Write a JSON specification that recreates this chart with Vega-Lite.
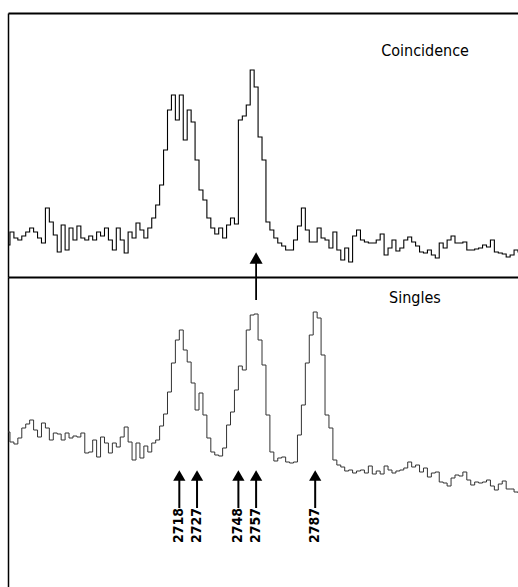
{
  "$schema": "https://vega.github.io/schema/vega-lite/v6.json",
  "padding": {"left": 8, "top": 13, "right": 0, "bottom": 0},
  "background": "white",
  "spacing": 0,
  "bounds": "flush",
  "config": {
    "view": {"stroke": null},
    "axis": {"grid": false, "ticks": false, "labels": false, "title": null, "domainColor": "black", "minExtent": 0, "maxExtent": 0, "offset": 0},
    "text": {"font": "DejaVu Sans Condensed, Noto Sans, sans-serif", "color": "black"}
  },
  "datasets": {
    "spectra": [
      {"E":2631,"coincidence":32,"singles":155},{"E":2633,"coincidence":45,"singles":145},{"E":2635,"coincidence":39,"singles":143},{"E":2637,"coincidence":37,"singles":149},{"E":2639,"coincidence":41,"singles":159},
      {"E":2641,"coincidence":45,"singles":163},{"E":2643,"coincidence":49,"singles":167},{"E":2645,"coincidence":45,"singles":157},{"E":2647,"coincidence":39,"singles":150},{"E":2649,"coincidence":34,"singles":164},
      {"E":2651,"coincidence":69,"singles":159},{"E":2653,"coincidence":55,"singles":147},{"E":2655,"coincidence":42,"singles":154},{"E":2657,"coincidence":25,"singles":153},{"E":2659,"coincidence":52,"singles":147},
      {"E":2661,"coincidence":27,"singles":154},{"E":2663,"coincidence":49,"singles":149},{"E":2665,"coincidence":37,"singles":151},{"E":2667,"coincidence":51,"singles":150},{"E":2669,"coincidence":39,"singles":154},
      {"E":2671,"coincidence":37,"singles":134},{"E":2673,"coincidence":41,"singles":135},{"E":2675,"coincidence":37,"singles":147},{"E":2677,"coincidence":45,"singles":130},{"E":2679,"coincidence":41,"singles":150},
      {"E":2681,"coincidence":49,"singles":144},{"E":2683,"coincidence":37,"singles":134},{"E":2685,"coincidence":27,"singles":144},{"E":2687,"coincidence":49,"singles":140},{"E":2689,"coincidence":37,"singles":150},
      {"E":2691,"coincidence":24,"singles":160},{"E":2693,"coincidence":45,"singles":145},{"E":2695,"coincidence":39,"singles":127},{"E":2697,"coincidence":54,"singles":144},{"E":2699,"coincidence":47,"singles":129},
      {"E":2701,"coincidence":39,"singles":141},{"E":2703,"coincidence":49,"singles":135},{"E":2705,"coincidence":59,"singles":144},{"E":2707,"coincidence":72,"singles":147},{"E":2709,"coincidence":92,"singles":161},
      {"E":2711,"coincidence":127,"singles":173},{"E":2713,"coincidence":167,"singles":195},{"E":2715,"coincidence":182,"singles":224},{"E":2717,"coincidence":157,"singles":247},{"E":2719,"coincidence":182,"singles":257},
      {"E":2721,"coincidence":137,"singles":237},{"E":2723,"coincidence":167,"singles":225},{"E":2725,"coincidence":155,"singles":204},{"E":2727,"coincidence":117,"singles":177},{"E":2729,"coincidence":87,"singles":194},
      {"E":2731,"coincidence":77,"singles":172},{"E":2733,"coincidence":59,"singles":149},{"E":2735,"coincidence":49,"singles":135},{"E":2737,"coincidence":43,"singles":132},{"E":2739,"coincidence":49,"singles":131},
      {"E":2741,"coincidence":39,"singles":139},{"E":2743,"coincidence":52,"singles":162},{"E":2745,"coincidence":59,"singles":175},{"E":2747,"coincidence":53,"singles":197},{"E":2749,"coincidence":157,"singles":221},
      {"E":2751,"coincidence":161,"singles":217},{"E":2753,"coincidence":172,"singles":257},{"E":2755,"coincidence":207,"singles":272},{"E":2757,"coincidence":190,"singles":273},{"E":2759,"coincidence":140,"singles":247},
      {"E":2761,"coincidence":117,"singles":222},{"E":2763,"coincidence":55,"singles":172},{"E":2765,"coincidence":47,"singles":135},{"E":2767,"coincidence":39,"singles":126},{"E":2769,"coincidence":34,"singles":129},
      {"E":2771,"coincidence":31,"singles":130},{"E":2773,"coincidence":27,"singles":125},{"E":2775,"coincidence":27,"singles":124},{"E":2777,"coincidence":37,"singles":125},{"E":2779,"coincidence":51,"singles":152},
      {"E":2781,"coincidence":69,"singles":182},{"E":2783,"coincidence":47,"singles":224},{"E":2785,"coincidence":35,"singles":252},{"E":2787,"coincidence":35,"singles":275},{"E":2789,"coincidence":49,"singles":269},
      {"E":2791,"coincidence":39,"singles":232},{"E":2793,"coincidence":37,"singles":172},{"E":2795,"coincidence":29,"singles":159},{"E":2797,"coincidence":45,"singles":127},{"E":2799,"coincidence":27,"singles":122},
      {"E":2801,"coincidence":17,"singles":120},{"E":2803,"coincidence":29,"singles":116},{"E":2805,"coincidence":15,"singles":117},{"E":2807,"coincidence":41,"singles":114},{"E":2809,"coincidence":47,"singles":116},
      {"E":2811,"coincidence":37,"singles":117},{"E":2813,"coincidence":35,"singles":114},{"E":2815,"coincidence":34,"singles":121},{"E":2817,"coincidence":34,"singles":113},{"E":2819,"coincidence":37,"singles":116},
      {"E":2821,"coincidence":43,"singles":113},{"E":2823,"coincidence":22,"singles":121},{"E":2825,"coincidence":29,"singles":117},{"E":2827,"coincidence":37,"singles":114},{"E":2829,"coincidence":26,"singles":116},
      {"E":2831,"coincidence":29,"singles":117},{"E":2833,"coincidence":37,"singles":119},{"E":2835,"coincidence":40,"singles":125},{"E":2837,"coincidence":35,"singles":120},{"E":2839,"coincidence":31,"singles":122},
      {"E":2841,"coincidence":25,"singles":115},{"E":2843,"coincidence":24,"singles":119},{"E":2845,"coincidence":27,"singles":110},{"E":2847,"coincidence":22,"singles":114},{"E":2849,"coincidence":19,"singles":115},
      {"E":2851,"coincidence":34,"singles":105},{"E":2853,"coincidence":29,"singles":104},{"E":2855,"coincidence":37,"singles":101},{"E":2857,"coincidence":41,"singles":109},{"E":2859,"coincidence":34,"singles":112},
      {"E":2861,"coincidence":34,"singles":111},{"E":2863,"coincidence":35,"singles":115},{"E":2865,"coincidence":27,"singles":107},{"E":2867,"coincidence":27,"singles":102},{"E":2869,"coincidence":28,"singles":105},
      {"E":2871,"coincidence":29,"singles":104},{"E":2873,"coincidence":32,"singles":105},{"E":2875,"coincidence":30,"singles":107},{"E":2877,"coincidence":37,"singles":101},{"E":2879,"coincidence":25,"singles":97},
      {"E":2881,"coincidence":24,"singles":103},{"E":2883,"coincidence":23,"singles":106},{"E":2885,"coincidence":20,"singles":98},{"E":2887,"coincidence":22,"singles":98},{"E":2889,"coincidence":27,"singles":95},
      {"E":2891,"coincidence":25,"singles":94}
    ],
    "gate": [{"E": 2757}],
    "lines": [
      {"E": 2718, "label": "2718"},
      {"E": 2727, "label": "2727"},
      {"E": 2748, "label": "2748"},
      {"E": 2757, "label": "2757"},
      {"E": 2787, "label": "2787"}
    ],
    "panelTop": [{"name": "Coincidence"}],
    "panelBottom": [{"name": "Singles"}]
  },
  "vconcat": [
    {
      "width": 510,
      "height": 264,
      "layer": [
        {
          "data": {"name": "spectra"},
          "mark": {"type": "line", "interpolate": "step", "color": "black", "strokeWidth": 1.1, "clip": true},
          "encoding": {
            "x": {"field": "E", "type": "quantitative", "scale": {"domain": [2631, 2890], "nice": false, "zero": false}, "axis": {"orient": "top", "domainWidth": 2}},
            "y": {"field": "coincidence", "type": "quantitative", "scale": {"domain": [0, 264], "nice": false}, "axis": {"orient": "left", "domainWidth": 1.5}}
          }
        },
        {
          "data": {"name": "gate"},
          "mark": {"type": "rule", "color": "black", "strokeWidth": 1.8},
          "encoding": {"x": {"field": "E", "type": "quantitative"}, "y": {"datum": 14}, "y2": {"datum": 0}}
        },
        {
          "data": {"name": "gate"},
          "mark": {"type": "point", "shape": "triangle-up", "filled": true, "color": "black", "opacity": 1, "size": 170},
          "encoding": {"x": {"field": "E", "type": "quantitative"}, "y": {"datum": 19}}
        },
        {
          "data": {"name": "panelTop"},
          "mark": {"type": "text", "fontSize": 16, "align": "left", "baseline": "alphabetic"},
          "encoding": {"x": {"datum": 2820.5}, "y": {"datum": 221}, "text": {"field": "name"}}
        }
      ]
    },
    {
      "width": 510,
      "height": 310,
      "layer": [
        {
          "data": {"name": "spectra"},
          "mark": {"type": "line", "interpolate": "step", "color": "#333333", "strokeWidth": 1, "clip": true},
          "encoding": {
            "x": {"field": "E", "type": "quantitative", "scale": {"domain": [2631, 2890], "nice": false, "zero": false}, "axis": {"orient": "top", "domainWidth": 2}},
            "y": {"field": "singles", "type": "quantitative", "scale": {"domain": [0, 310], "nice": false}, "axis": {"orient": "left", "domainWidth": 1.5}}
          }
        },
        {
          "data": {"name": "gate"},
          "mark": {"type": "rule", "color": "black", "strokeWidth": 1.8},
          "encoding": {"x": {"field": "E", "type": "quantitative"}, "y": {"datum": 310}, "y2": {"datum": 287}}
        },
        {
          "data": {"name": "lines"},
          "mark": {"type": "rule", "color": "black", "strokeWidth": 2},
          "encoding": {"x": {"field": "E", "type": "quantitative"}, "y": {"datum": 107}, "y2": {"datum": 79}}
        },
        {
          "data": {"name": "lines"},
          "mark": {"type": "point", "shape": "triangle-up", "filled": true, "color": "black", "opacity": 1, "size": 150},
          "encoding": {"x": {"field": "E", "type": "quantitative"}, "y": {"datum": 111.5}}
        },
        {
          "data": {"name": "lines"},
          "mark": {"type": "text", "angle": 270, "align": "right", "baseline": "middle", "fontSize": 14, "fontWeight": "bold", "font": "DejaVu Sans Condensed, Roboto, sans-serif"},
          "encoding": {"x": {"field": "E", "type": "quantitative"}, "y": {"datum": 79}, "text": {"field": "label"}}
        },
        {
          "data": {"name": "panelBottom"},
          "mark": {"type": "text", "fontSize": 16, "align": "left", "baseline": "alphabetic"},
          "encoding": {"x": {"datum": 2824.5}, "y": {"datum": 284}, "text": {"field": "name"}}
        }
      ]
    }
  ]
}
